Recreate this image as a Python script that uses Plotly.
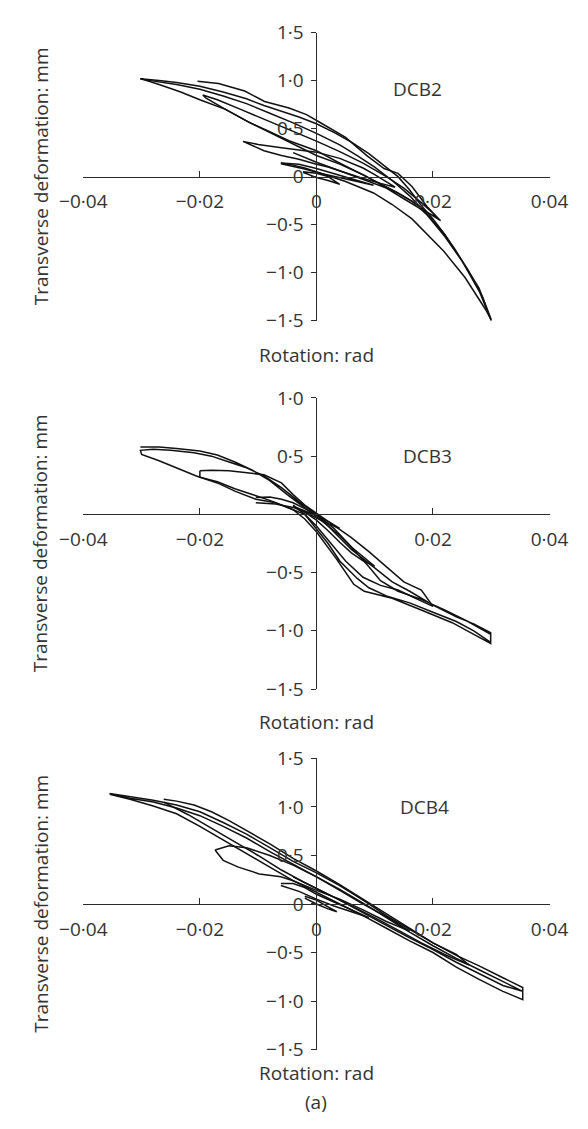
import plotly.graph_objects as go

# ---------------- data (rotation: rad, transverse deformation: mm) ----------------
N = None
dcb2_rot = [-0.0302, -0.027, -0.0234, -0.020, -0.0156, -0.0114, -0.0083, -0.0047, 0.000, 0.0037, 0.0086, 0.0134, 0.0165, 0.019, 0.022, 0.025, 0.028, 0.0300,
            0.0279, 0.0255, 0.0237, 0.0215, 0.020, 0.018, 0.016, 0.014, 0.012, 0.009, 0.006, 0.003, 0.000, -0.003, -0.006, -0.009, -0.012, -0.016, -0.020, -0.024, -0.027, -0.0302, N,
            -0.0061, -0.004, -0.002, 0.000, 0.005, 0.0098, 0.013, 0.0164, 0.0219, 0.0255, 0.029, 0.0300,
            0.0285, 0.026, 0.024, 0.022, 0.020, 0.018, 0.016, 0.013, 0.010, 0.007, 0.004, 0.000, -0.004, -0.008, -0.012, -0.016, -0.020, -0.024, -0.028, -0.0302, N,
            -0.0204, -0.0168, -0.0123, -0.0089, -0.0047, -0.0017, 0.0007, 0.0050, 0.0086, 0.0116, 0.0140, 0.0164, 0.0189, 0.0213,
            0.019, 0.0165, 0.014, 0.011, 0.008, 0.004, 0.000, -0.004, -0.008, -0.012, -0.0156, -0.019, -0.0195,
            -0.017, -0.013, -0.009, -0.005, 0.000, 0.004, 0.008, 0.012, 0.015, 0.018, 0.020, 0.0205,
            0.018, 0.015, 0.012, 0.009, 0.005, 0.000, -0.004, N,
            -0.0126, -0.010, -0.006, -0.002, 0.000, 0.004, 0.008, 0.010, 0.012, 0.0135,
            0.011, 0.008, 0.005, 0.002, 0.000, -0.003, -0.006, -0.009, -0.0126, N,
            -0.0061, -0.003, 0.000, 0.003, 0.006, 0.0098,
            0.007, 0.004, 0.001, -0.002, -0.0061, N,
            -0.0023, 0.000, 0.002, 0.004, 0.002, 0.000, -0.0023]
dcb2_def = [1.02, 0.96, 0.884, 0.80, 0.70, 0.56, 0.476, 0.374, 0.27, 0.15, 0.00, -0.15, -0.26, -0.40, -0.62, -0.88, -1.20, -1.50,
            -1.16, -0.92, -0.75, -0.56, -0.44, -0.30, -0.14, 0.00, 0.10, 0.24, 0.36, 0.46, 0.55, 0.62, 0.68, 0.74, 0.81, 0.88, 0.94, 0.98, 1.00, 1.02, N,
            0.143, 0.12, 0.09, 0.05, -0.05, -0.17, -0.29, -0.44, -0.78, -1.05, -1.38, -1.49,
            -1.25, -0.97, -0.78, -0.60, -0.46, -0.33, -0.20, -0.04, 0.10, 0.22, 0.33, 0.45, 0.56, 0.66, 0.76, 0.84, 0.91, 0.96, 1.00, 1.015, N,
            0.993, 0.969, 0.891, 0.782, 0.714, 0.646, 0.561, 0.408, 0.221, 0.085, 0.034, -0.102, -0.306, -0.459,
            -0.37, -0.26, -0.17, -0.08, 0.02, 0.13, 0.22, 0.34, 0.46, 0.58, 0.70, 0.82, 0.85,
            0.80, 0.70, 0.60, 0.50, 0.37, 0.26, 0.14, 0.00, -0.12, -0.27, -0.38, -0.42,
            -0.34, -0.23, -0.12, -0.05, 0.04, 0.15, 0.25, N,
            0.367, 0.335, 0.30, 0.27, 0.255, 0.19, 0.09, 0.02, -0.05, -0.11,
            -0.07, -0.02, 0.04, 0.10, 0.13, 0.18, 0.22, 0.27, 0.367, N,
            0.143, 0.13, 0.085, 0.03, -0.02, -0.09,
            -0.05, -0.01, 0.03, 0.08, 0.135, N,
            0.05, 0.035, 0.00, -0.08, -0.04, -0.01, 0.045]

dcb3_rot = [-0.0302, -0.027, -0.024, -0.020, -0.017, -0.014, -0.011, -0.008, -0.005, -0.002, 0.000, 0.002, 0.004, 0.006, 0.008, 0.010, 0.013, 0.016, 0.020, 0.024, 0.027, 0.0299,
            0.0299, 0.027, 0.0233, 0.0184, 0.013, 0.0082, 0.0064, 0.0034, 0.000, -0.002, -0.004, -0.007, -0.0104, -0.014, -0.017, -0.0206, -0.024, -0.027, -0.030, -0.0302,
            -0.028, -0.025, -0.021, -0.018, -0.015, -0.012, -0.009, -0.006, -0.003, 0.000, 0.003, 0.006, 0.009, 0.011, 0.014, 0.018, 0.022, 0.026, 0.0299,
            0.0299, 0.027, 0.024, 0.020, 0.016, 0.012, 0.009, 0.007, 0.004, 0.002, 0.000, -0.002, -0.004, N,
            -0.020, -0.018, -0.015, -0.012, -0.009, -0.006, -0.004, -0.002, 0.000, 0.003, 0.006, 0.009, 0.012, 0.015, 0.018, 0.020,
            0.017, 0.014, 0.011, 0.008, 0.005, 0.002, 0.000, -0.002, -0.005, -0.008, -0.011, -0.014, -0.017, -0.020, -0.020, N,
            -0.0104, -0.008, -0.006, -0.004, -0.002, 0.000, 0.002, 0.004, 0.006, 0.008, 0.010,
            0.008, 0.006, 0.004, 0.002, 0.000, -0.002, -0.004, -0.007, -0.0104, N,
            -0.004, -0.002, 0.000, 0.002, 0.004, 0.002, 0.000, -0.002, -0.004]
dcb3_def = [0.579, 0.578, 0.565, 0.545, 0.51, 0.45, 0.38, 0.29, 0.17, 0.06, -0.02, -0.10, -0.20, -0.30, -0.38, -0.46, -0.58, -0.66, -0.78, -0.88, -0.94, -1.015,
            -1.108, -1.03, -0.93, -0.83, -0.72, -0.66, -0.60, -0.38, -0.15, -0.04, 0.04, 0.10, 0.13, 0.20, 0.27, 0.33, 0.40, 0.46, 0.515, 0.55,
            0.56, 0.55, 0.53, 0.50, 0.45, 0.40, 0.33, 0.23, 0.11, 0.00, -0.12, -0.28, -0.45, -0.57, -0.66, -0.73, -0.82, -0.92, -1.03,
            -1.10, -1.00, -0.92, -0.84, -0.76, -0.70, -0.63, -0.55, -0.40, -0.25, -0.12, 0.00, 0.08, N,
            0.375, 0.38, 0.375, 0.36, 0.34, 0.27, 0.17, 0.08, 0.01, -0.09, -0.20, -0.32, -0.45, -0.58, -0.65, -0.79,
            -0.72, -0.65, -0.61, -0.54, -0.40, -0.22, -0.10, 0.00, 0.06, 0.12, 0.17, 0.22, 0.28, 0.32, 0.375, N,
            0.145, 0.15, 0.13, 0.10, 0.05, 0.00, -0.10, -0.18, -0.28, -0.36, -0.445,
            -0.40, -0.33, -0.24, -0.14, -0.05, 0.02, 0.06, 0.09, 0.10, N,
            0.07, 0.03, -0.01, -0.06, -0.12, -0.08, -0.03, 0.02, 0.07]

dcb4_rot = [-0.0355, -0.032, -0.028, -0.024, -0.020, -0.016, -0.012, -0.008, -0.004, 0.000, 0.004, 0.008, 0.012, 0.016, 0.020, 0.024, 0.028, 0.032, 0.0354,
            0.0354, 0.032, 0.028, 0.024, 0.020, 0.016, 0.012, 0.008, 0.004, 0.000, -0.004, -0.008, -0.012, -0.016, -0.020, -0.024, -0.028, -0.032, -0.0355,
            -0.032, -0.028, -0.024, -0.020, -0.016, -0.012, -0.008, -0.004, 0.000, 0.004, 0.008, 0.012, 0.016, 0.020, 0.024, 0.028, 0.032, 0.0354,
            0.032, 0.028, 0.024, 0.020, 0.016, 0.012, 0.008, 0.004, 0.000, -0.004, N,
            -0.0262, -0.024, -0.021, -0.018, -0.015, -0.012, -0.008, -0.004, 0.000, 0.004, 0.008, 0.012, 0.016, 0.020, 0.024, 0.0262,
            0.022, 0.018, 0.014, 0.010, 0.006, 0.002, -0.002, -0.006, -0.010, -0.014, -0.018, -0.022, -0.0262, N,
            -0.0174, -0.015, -0.012, -0.008, -0.004, 0.000, 0.004, 0.008, 0.012, 0.016,
            0.012, 0.008, 0.004, 0.000, -0.004, -0.0061, -0.0098, -0.0134, -0.016, -0.0174, N,
            -0.0061, -0.004, -0.002, 0.000, 0.003, 0.006, 0.009,
            0.006, 0.003, 0.000, -0.003, -0.0061, N,
            -0.002, 0.000, 0.002, 0.0035, 0.002, 0.000, -0.002]
dcb4_def = [1.14, 1.11, 1.07, 1.02, 0.95, 0.84, 0.72, 0.58, 0.44, 0.32, 0.19, 0.04, -0.12, -0.26, -0.40, -0.53, -0.64, -0.76, -0.86,
            -0.985, -0.90, -0.78, -0.65, -0.50, -0.38, -0.25, -0.12, 0.00, 0.12, 0.24, 0.38, 0.52, 0.66, 0.80, 0.93, 1.01, 1.08, 1.13,
            1.09, 1.05, 0.99, 0.91, 0.80, 0.68, 0.54, 0.41, 0.28, 0.15, 0.01, -0.14, -0.29, -0.43, -0.56, -0.68, -0.80, -0.90,
            -0.84, -0.72, -0.60, -0.47, -0.35, -0.22, -0.09, 0.04, 0.16, 0.28, N,
            1.08, 1.06, 1.02, 0.95, 0.86, 0.76, 0.62, 0.47, 0.34, 0.20, 0.05, -0.10, -0.25, -0.40, -0.52, -0.63,
            -0.52, -0.40, -0.27, -0.14, -0.02, 0.10, 0.22, 0.35, 0.50, 0.64, 0.78, 0.92, 1.05, N,
            0.556, 0.60, 0.58, 0.50, 0.40, 0.28, 0.14, 0.00, -0.13, -0.28,
            -0.18, -0.06, 0.05, 0.14, 0.24, 0.28, 0.31, 0.38, 0.45, 0.556, N,
            0.21, 0.21, 0.17, 0.10, 0.02, -0.06, -0.14,
            -0.08, -0.02, 0.05, 0.13, 0.19, N,
            0.08, 0.04, -0.03, -0.08, -0.05, 0.00, 0.06]

x_ticks = [-0.04, -0.02, 0, 0.02, 0.04]
x_text_full = ["\u22120\u00b704", "\u22120\u00b702", "0", "0\u00b702", "0\u00b704"]
x_text_no0 = ["\u22120\u00b704", "\u22120\u00b702", "", "0\u00b702", "0\u00b704"]
y_ticks = [1.5, 1.0, 0.5, 0, -0.5, -1.0, -1.5]
y_text_full = ["1\u00b75", "1\u00b70", "0\u00b75", "0", "\u22120\u00b75", "\u22121\u00b70", "\u22121\u00b75"]
y_ticks_b = [1.0, 0.5, -0.5, -1.0, -1.5]
y_text_b = ["1\u00b70", "0\u00b75", "\u22120\u00b75", "\u22121\u00b70", "\u22121\u00b75"]
panel_names = ["DCB2", "DCB3", "DCB4"]

# ---------------- layout geometry ----------------
W, H = 588, 1129
FONT = "Open Sans"
TXT = "#333333"
AX = "#2b2b2b"
FS = 19

xdom = [64 / W, 567 / W]
ydoms = [[1 - 315 / H, 1 - 20 / H], [1 - 692 / H, 1 - 394 / H], [1 - 1061 / H, 1 - 763 / H]]
yranges = [[-1.5, 1.5], [-1.5, 1.0], [-1.5, 1.5]]

fig = go.Figure()
series = [(dcb2_rot, dcb2_def), (dcb3_rot, dcb3_def), (dcb4_rot, dcb4_def)]
for i, (xs, ys) in enumerate(series):
    sfx = "" if i == 0 else str(i + 1)
    fig.add_trace(go.Scatter(x=xs, y=ys, mode="lines", xaxis="x" + sfx, yaxis="y" + sfx,
                             line=dict(color="#111111", width=1.5), showlegend=False,
                             hoverinfo="skip", connectgaps=False))

layout = dict(width=W, height=H, margin=dict(l=0, r=0, t=0, b=0),
              paper_bgcolor="white", plot_bgcolor="white", showlegend=False,
              font=dict(family=FONT, size=FS, color=TXT))
xcenter = (xdom[0] + xdom[1]) / 2
for i in range(3):
    sfx = "" if i == 0 else str(i + 1)
    yd = ydoms[i]
    yr = yranges[i]
    zero_pos = yd[0] + (0 - yr[0]) / (yr[1] - yr[0]) * (yd[1] - yd[0])
    layout["xaxis" + sfx] = dict(domain=xdom, range=[-0.04, 0.04], anchor="free", position=zero_pos,
                                 tickmode="array", tickvals=x_ticks,
                                 ticktext=x_text_no0 if i == 1 else x_text_full,
                                 ticks="inside", ticklen=6, tickcolor=AX, tickwidth=1,
                                 showline=True, linecolor=AX, linewidth=1,
                                 showgrid=False, zeroline=False, ticklabelstandoff=8,
                                 tickfont=dict(family=FONT, size=FS, color=TXT), fixedrange=True)
    layout["yaxis" + sfx] = dict(domain=yd, range=yr, anchor="free", position=xcenter,
                                 tickmode="array",
                                 tickvals=y_ticks_b if i == 1 else y_ticks,
                                 ticktext=y_text_b if i == 1 else y_text_full,
                                 ticks="outside", ticklen=5, tickcolor=AX, tickwidth=1,
                                 showline=True, linecolor=AX, linewidth=1,
                                 showgrid=False, zeroline=False, ticklabelstandoff=4,
                                 tickfont=dict(family=FONT, size=FS, color=TXT), fixedrange=True)
fig.update_layout(**layout)

ann = []
title_y = [350, 726, 1085]
label_pos = [(0.0174, 0.915), (0.0191, 0.50), (0.0186, 1.0)]
for i in range(3):
    sfx = "" if i == 0 else str(i + 1)
    yd = ydoms[i]
    ann.append(dict(text="Transverse deformation: mm", x=18 / W, y=(yd[0] + yd[1]) / 2,
                    xref="paper", yref="paper", textangle=-90, showarrow=False,
                    xanchor="center", yanchor="middle", font=dict(family=FONT, size=FS, color=TXT)))
    ann.append(dict(text="Rotation: rad", x=xcenter, y=1 - title_y[i] / H, xref="paper", yref="paper",
                    showarrow=False, xanchor="center", yanchor="middle", borderpad=0,
                    font=dict(family=FONT, size=FS, color=TXT)))
    ann.append(dict(text=panel_names[i], x=label_pos[i][0], y=label_pos[i][1],
                    xref="x" + sfx, yref="y" + sfx, showarrow=False, xanchor="center", yanchor="middle",
                    font=dict(family=FONT, size=FS, color=TXT)))
ann.append(dict(text="(a)", x=xcenter, y=0.0, xref="paper", yref="paper", showarrow=False,
                xanchor="center", yanchor="bottom", borderpad=0,
                font=dict(family=FONT, size=FS, color=TXT)))
fig.update_layout(annotations=ann)

fig.write_html("out.html")
